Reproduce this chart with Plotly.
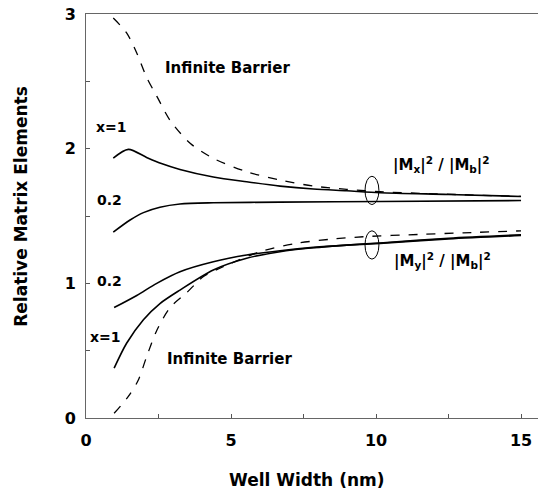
import plotly.graph_objects as go

# ---- data ----
mx_inf_x = [0.94, 1.40, 1.75, 2.09, 2.44, 2.90, 3.59, 4.39, 5.54, 6.69, 7.84, 8.99, 10.14, 12.0, 15.0]
mx_inf_y = [2.97, 2.86, 2.71, 2.53, 2.39, 2.21, 2.04, 1.928, 1.829, 1.767, 1.722, 1.698, 1.68, 1.665, 1.645]

mx_x1_x = [0.94, 1.46, 2.09, 2.60, 3.24, 4.39, 5.54, 6.69, 7.84, 8.99, 10.14, 12.5, 15.0]
mx_x1_y = [1.93, 1.995, 1.935, 1.89, 1.846, 1.79, 1.754, 1.722, 1.70, 1.687, 1.673, 1.66, 1.645]

mx_02_x = [0.94, 1.52, 1.98, 2.55, 3.24, 4.39, 6.69, 10.14, 15.0]
mx_02_y = [1.38, 1.47, 1.525, 1.565, 1.589, 1.598, 1.603, 1.608, 1.615]

my_inf_x = [0.97, 1.46, 1.80, 2.09, 2.44, 2.90, 3.47, 4.04, 4.73, 6.0, 7.26, 8.41, 9.56, 11.46, 13.0, 15.0]
my_inf_y = [0.035, 0.16, 0.28, 0.455, 0.65, 0.82, 0.93, 1.049, 1.123, 1.235, 1.297, 1.327, 1.346, 1.363, 1.375, 1.39]

my_x1_x = [0.97, 1.40, 1.98, 2.55, 3.24, 4.39, 5.54, 6.69, 7.84, 8.99, 10.14, 12.5, 15.0]
my_x1_y = [0.37, 0.555, 0.73, 0.85, 0.95, 1.099, 1.186, 1.235, 1.264, 1.284, 1.30, 1.335, 1.36]

my_02_x = [0.97, 1.75, 2.44, 3.24, 4.39, 5.54, 6.69, 7.84, 8.99, 10.14, 12.5, 15.0]
my_02_y = [0.82, 0.91, 1.0, 1.086, 1.16, 1.21, 1.242, 1.267, 1.284, 1.297, 1.33, 1.355]

FONT = "DejaVu Sans"

fig = go.Figure()

def add(x, y, dash):
    fig.add_trace(go.Scatter(x=x, y=y, mode="lines",
                             line=dict(color="black", width=1.6 if dash == "solid" else 1.3,
                                       dash=dash, shape="spline", smoothing=0.8),
                             showlegend=False, hoverinfo="skip"))

add(mx_inf_x, mx_inf_y, "dash")
add(mx_x1_x, mx_x1_y, "solid")
add(mx_02_x, mx_02_y, "solid")
add(my_inf_x, my_inf_y, "dash")
add(my_x1_x, my_x1_y, "solid")
add(my_02_x, my_02_y, "solid")

# ghost trace for right-side ticks
fig.add_trace(go.Scatter(x=[0], y=[0], yaxis="y2", mode="none", showlegend=False, hoverinfo="skip"))

# ellipses
fig.add_shape(type="circle", xref="x", yref="y", x0=9.62, x1=10.1, y0=1.585, y1=1.795,
              line=dict(color="black", width=1))
fig.add_shape(type="circle", xref="x", yref="y", x0=9.62, x1=10.1, y0=1.18, y1=1.39,
              line=dict(color="black", width=1))

def ann(x, y, text, size):
    fig.add_annotation(x=x, y=y, xref="x", yref="y", text=text, showarrow=False,
                       font=dict(family=FONT, size=size, color="black", weight="bold"))

ann(4.87, 2.6, "Infinite Barrier", 15)
ann(4.94, 0.44, "Infinite Barrier", 15)
ann(0.88, 2.16, "x=1", 14)
ann(0.81, 1.62, "0.2", 14)
ann(0.80, 1.015, "0.2", 14)
ann(0.66, 0.6, "x=1", 14)
ann(12.25, 1.88, "|M<sub>x</sub>|<sup>2</sup> / |M<sub>b</sub>|<sup>2</sup>", 15)
ann(12.3, 1.17, "|M<sub>y</sub>|<sup>2</sup> / |M<sub>b</sub>|<sup>2</sup>", 15)

# axis titles
fig.add_annotation(x=-0.141, y=0.525, xref="paper", yref="paper", text="Relative Matrix Elements",
                   textangle=-90, showarrow=False, xanchor="center", yanchor="middle",
                   font=dict(family=FONT, size=17, color="black", weight="bold"))
fig.add_annotation(x=0.478, y=-0.153, xref="paper", yref="paper", text="Well Width (nm)",
                   showarrow=False, xanchor="center", yanchor="middle",
                   font=dict(family=FONT, size=17, color="black", weight="bold"))

axis_common = dict(showgrid=False, zeroline=False, ticks="inside", ticklen=4,
                   tickcolor="#555", linecolor="#666", linewidth=1, showline=True,
                   ticklabeloverflow="allow", automargin=False,
                   tickfont=dict(family=FONT, size=16, color="black", weight="bold"))

fig.update_layout(
    width=546, height=493,
    margin=dict(l=78, r=6, t=6, b=83, autoexpand=False),
    paper_bgcolor="white", plot_bgcolor="white",
    xaxis=dict(range=[0, 15.93], dtick=5, tick0=0, mirror=True,
               minor=dict(dtick=2.5, ticks="inside", ticklen=4, tickcolor="#555"),
               ticklabelstandoff=8, **axis_common),
    yaxis=dict(range=[0, 3], dtick=1, tick0=0, mirror=False,
               minor=dict(dtick=0.5, ticks="inside", ticklen=4, tickcolor="#555"),
               ticklabelstandoff=6, **axis_common),
    yaxis2=dict(range=[0, 3], overlaying="y", side="right", showline=False, showgrid=False,
                zeroline=False, ticks="inside", ticklen=4, tickcolor="#555", dtick=0.5,
                showticklabels=False, automargin=False),
)

fig.write_html("out.html")
